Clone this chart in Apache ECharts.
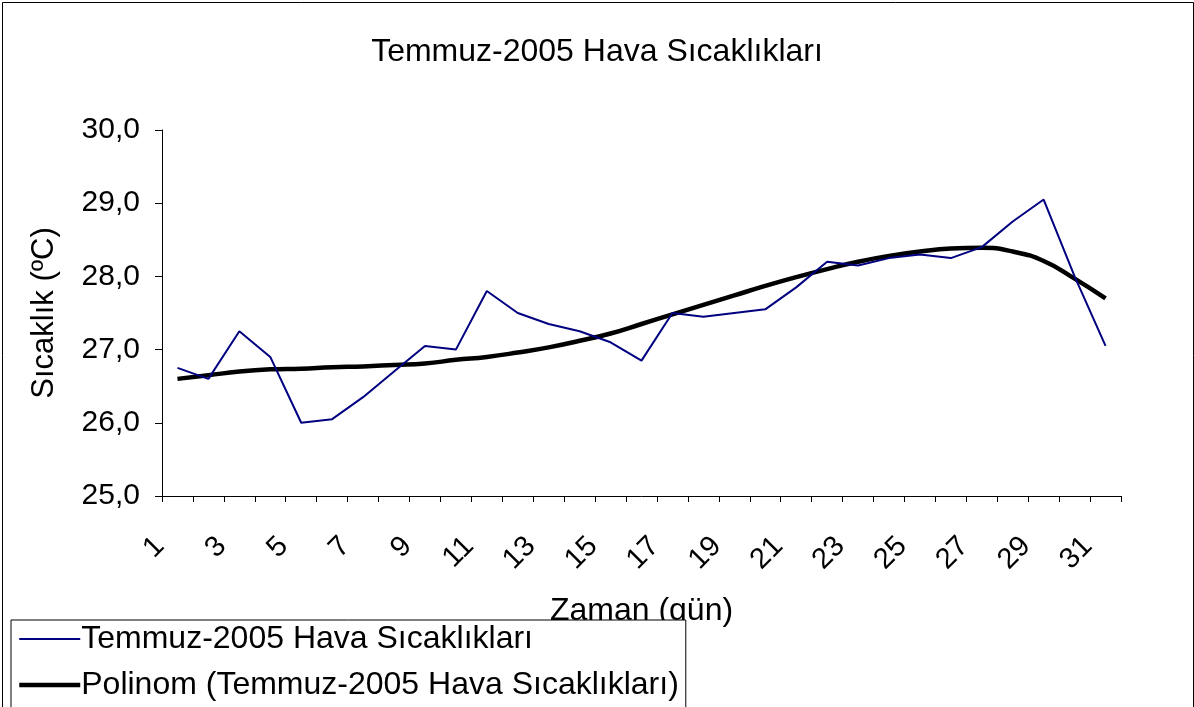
<!DOCTYPE html>
<html>
<head>
<meta charset="utf-8">
<script src="https://cdn.jsdelivr.net/npm/echarts@6/dist/echarts.min.js"></script>
<style>
html,body{margin:0;padding:0;background:#fff;}
#c{width:1194px;height:707px;}
</style>
</head>
<body>
<div id="c"></div>
<script>
var days = ['1','2','3','4','5','6','7','8','9','10','11','12','13','14','15','16','17','18','19','20','21','22','23','24','25','26','27','28','29','30','31'];
var temps = [26.75,26.6,27.25,26.9,26.0,26.05,26.35,26.7,27.05,27.0,27.8,27.5,27.35,27.25,27.1,26.85,27.5,27.45,27.5,27.55,27.85,28.2,28.15,28.25,28.3,28.25,28.4,28.75,29.05,28.0,27.05];
var trend = [26.60,26.65,26.70,26.73,26.74,26.76,26.77,26.79,26.81,26.86,26.90,26.96,27.03,27.12,27.22,27.35,27.48,27.61,27.74,27.87,27.99,28.10,28.20,28.28,28.34,28.38,28.39,28.34,28.21,27.97,27.70];
var seriesName = 'Temmuz-2005 Hava Sıcaklıkları';
var trendName = 'Polinom (Temmuz-2005 Hava Sıcaklıkları)';
var titleText = 'Temmuz-2005 Hava Sıcaklıkları';
var xName = 'Zaman (gün)';
var yName = 'Sıcaklık (ºC)';

var FONT = "'Liberation Sans', Arial, sans-serif";
var chart = echarts.init(document.getElementById('c'), null, {renderer:'canvas'});
chart.setOption({
  backgroundColor: '#fff',
  animation: false,
  textStyle: {fontFamily: FONT, color: '#000'},
  title: {
    text: titleText, left: 'center', top: 31,
    textStyle: {fontFamily: FONT, fontSize: 32, fontWeight: 'normal', color: '#000'}
  },
  graphic: [{
    type: 'rect', left: 0, top: 0, z: -1, silent: true,
    shape: {x: 0.5, y: 0.5, width: 1191, height: 720},
    style: {fill: 'none', stroke: '#000', lineWidth: 1}
  }],
  grid: {left: 162, right: 73, top: 130, bottom: 211, containLabel: false},
  legend: {
    orient: 'vertical', left: 11, top: 620, height: 200, width: 720,
    backgroundColor: '#fff', borderColor: '#000', borderWidth: 1, borderRadius: 0,
    padding: [3, 7, 10, 6], itemGap: 14, itemWidth: 61, itemHeight: 30,
    itemStyle: {opacity: 0},
    textStyle: {fontFamily: FONT, fontSize: 32, color: '#000', padding: [0,0,0,-4]},
    data: [
      {name: seriesName, lineStyle: {width: 2, color: '#000080'}},
      {name: trendName, lineStyle: {width: 4.5, color: '#000'}}
    ]
  },
  xAxis: {
    type: 'category', data: days, boundaryGap: true,
    name: xName, nameLocation: 'middle', nameGap: 99,
    nameTextStyle: {fontFamily: FONT, fontSize: 32, color: '#000'},
    axisLine: {lineStyle: {color: '#000', width: 1}},
    axisTick: {show: true, interval: 0, length: 6, lineStyle: {color: '#000'}},
    axisLabel: {interval: 1, rotate: 45, margin: 28, padding: [0, 25, 0, 0], fontFamily: FONT, fontSize: 29, color: '#000'},
    splitLine: {show: false}
  },
  yAxis: {
    type: 'value', min: 25, max: 30, interval: 1,
    name: yName, nameLocation: 'middle', nameGap: 102, nameRotate: 90,
    nameTextStyle: {fontFamily: FONT, fontSize: 31, color: '#000'},
    axisLine: {show: true, lineStyle: {color: '#000', width: 1}},
    axisTick: {show: true, length: 7, lineStyle: {color: '#000'}},
    axisLabel: {margin: 22, fontFamily: FONT, fontSize: 30, color: '#000',
      formatter: function(v){ return v.toFixed(1).replace('.', ','); }},
    splitLine: {show: false}
  },
  series: [{
    name: seriesName, type: 'line', data: temps, symbol: 'none',
    lineStyle: {color: '#000080', width: 2}, itemStyle: {color: '#000080'}, z: 3
  }, {
    name: trendName, type: 'line', data: trend, symbol: 'none', smooth: 0.5,
    lineStyle: {color: '#000', width: 4.5}, itemStyle: {color: '#000'}, z: 2
  }]
});
</script>
</body>
</html>
